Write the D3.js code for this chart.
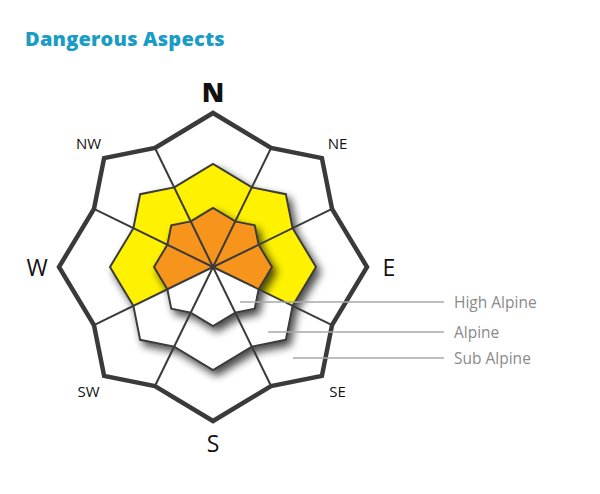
<!DOCTYPE html>
<html>
<head>
<meta charset="utf-8">
<script src="https://cdn.jsdelivr.net/npm/d3@7"></script>
<style>
  body { margin: 0; background: #ffffff; }
  svg { display: block; }
</style>
</head>
<body>
<svg id="chart" width="600" height="494"></svg>
<script>
// Aspects clockwise from north, and elevation bands from the core outward
const aspects = ["N", "NE", "E", "SE", "S", "SW", "W", "NW"];
const bands = ["High Alpine", "Alpine", "Sub Alpine"];

// Hazard per aspect in each band (0 = not a concern)
const highAlpine = [2, 2, 2, 0, 0, 0, 2, 2];
const alpine     = [1, 1, 1, 0, 0, 0, 1, 1];
const subAlpine  = [0, 0, 0, 0, 0, 0, 0, 0];

const hazardLevels = [0, 1, 2];
const hazardColors = ["#ffffff", "#fff200", "#f7941d"];

const title = "Dangerous Aspects";

// ---- layout ----
const svg = d3.select("#chart");
const cx = 213, cy = 267;
const stroke = "#3a3a3a";

const bandValues = { "High Alpine": highAlpine, "Alpine": alpine, "Sub Alpine": subAlpine };
const radius = d3.scaleOrdinal().domain(bands).range([59, 103, 154]);
const valleyRatio = 0.86;
const angle = d3.scalePoint().domain(aspects).range([0, 315]);
const color = d3.scaleOrdinal().domain(hazardLevels).range(hazardColors);

// cardinal sectors are wider than the diagonal ones
const halfWidth = (a, i) => (i % 2 === 0 ? 26 : 19);

function polar(deg, r) {
  const t = deg * Math.PI / 180;
  return [cx + r * Math.sin(t), cy - r * Math.cos(t)];
}

function wedge(aspect, i, band) {
  const a = angle(aspect), h = halfWidth(aspect, i);
  const R = radius(band), V = R * valleyRatio;
  return [[cx, cy], polar(a - h, V), polar(a, R), polar(a + h, V)];
}

function outline(band) {
  const R = radius(band), V = R * valleyRatio;
  const pts = [];
  aspects.forEach((asp, i) => {
    const a = angle(asp), h = halfWidth(asp, i);
    pts.push(polar(a - h, V), polar(a, R));
  });
  return pts;
}

const line = d3.line().curve(d3.curveLinearClosed);

// drop shadow for the raised bands
const defs = svg.append("defs");
const f = defs.append("filter").attr("id", "shadow")
  .attr("x", "-30%").attr("y", "-30%").attr("width", "160%").attr("height", "160%");
f.append("feGaussianBlur").attr("in", "SourceAlpha").attr("stdDeviation", 4).attr("result", "blur");
f.append("feOffset").attr("in", "blur").attr("dx", 4).attr("dy", 5).attr("result", "off");
f.append("feComponentTransfer").attr("in", "off").attr("result", "soft")
  .append("feFuncA").attr("type", "linear").attr("slope", 0.72);
const merge = f.append("feMerge");
merge.append("feMergeNode").attr("in", "soft");
merge.append("feMergeNode").attr("in", "SourceGraphic");

// bands drawn from the outside in so the inner ones sit on top
[...bands].reverse().forEach(band => {
  const g = svg.append("g").attr("class", "band");
  if (band !== "Sub Alpine") g.attr("filter", "url(#shadow)");
  g.selectAll("path.cell")
    .data(aspects.map((asp, i) => ({ asp, i, v: bandValues[band][i] })))
    .join("path")
    .attr("class", "cell")
    .attr("d", d => line(wedge(d.asp, d.i, band)))
    .attr("fill", d => color(d.v))
    .attr("stroke", "none");
  if (band !== "Sub Alpine") {
    g.append("path")
      .attr("d", line(outline(band)))
      .attr("fill", "none")
      .attr("stroke", stroke)
      .attr("stroke-width", 2)
      .attr("stroke-linejoin", "miter");
  }
});

// spokes between sectors
const outerBand = bands[bands.length - 1];
svg.append("g").selectAll("line")
  .data(aspects.map((asp, i) => angle(asp) + halfWidth(asp, i)))
  .join("line")
  .attr("x1", cx).attr("y1", cy)
  .attr("x2", d => polar(d, radius(outerBand) * valleyRatio)[0])
  .attr("y2", d => polar(d, radius(outerBand) * valleyRatio)[1])
  .attr("stroke", stroke)
  .attr("stroke-width", 2);

// heavy outer rim
svg.append("path")
  .attr("d", line(outline(outerBand)))
  .attr("fill", "none")
  .attr("stroke", stroke)
  .attr("stroke-width", 4.5)
  .attr("stroke-linejoin", "miter");

// compass labels
const labelR = 176;
svg.append("g").selectAll("text")
  .data(aspects)
  .join("text")
  .attr("x", d => polar(angle(d), labelR)[0])
  .attr("y", d => polar(angle(d), labelR)[1])
  .attr("text-anchor", "middle")
  .attr("dominant-baseline", "central")
  .attr("font-family", "'Open Sans', sans-serif")
  .attr("font-size", d => d === "N" ? 27 : (d.length === 1 ? 23 : 15))
  .attr("font-weight", d => d === "N" ? 800 : 400)
  .attr("fill", "#111")
  .text(d => d);

// elevation legend with leader lines
const legendY = [302, 332, 358];
const legendX0 = [240, 268, 293];
const lg = svg.append("g");
bands.forEach((band, i) => {
  lg.append("line")
    .attr("x1", legendX0[i]).attr("x2", 444)
    .attr("y1", legendY[i]).attr("y2", legendY[i])
    .attr("stroke", "#a8a8a8").attr("stroke-width", 1.3);
  lg.append("text")
    .attr("x", 454).attr("y", legendY[i])
    .attr("dominant-baseline", "central")
    .attr("font-family", "'Open Sans', sans-serif")
    .attr("font-size", 15.5)
    .attr("fill", "#8a8a8a")
    .text(band);
});

// title
svg.append("text")
  .attr("x", 25).attr("y", 46)
  .attr("font-family", "'Open Sans', sans-serif")
  .attr("font-size", 20)
  .attr("font-weight", 800)
  .attr("letter-spacing", 0.2)
  .attr("fill", "#1b9cc6")
  .text(title);
</script>
</body>
</html>
